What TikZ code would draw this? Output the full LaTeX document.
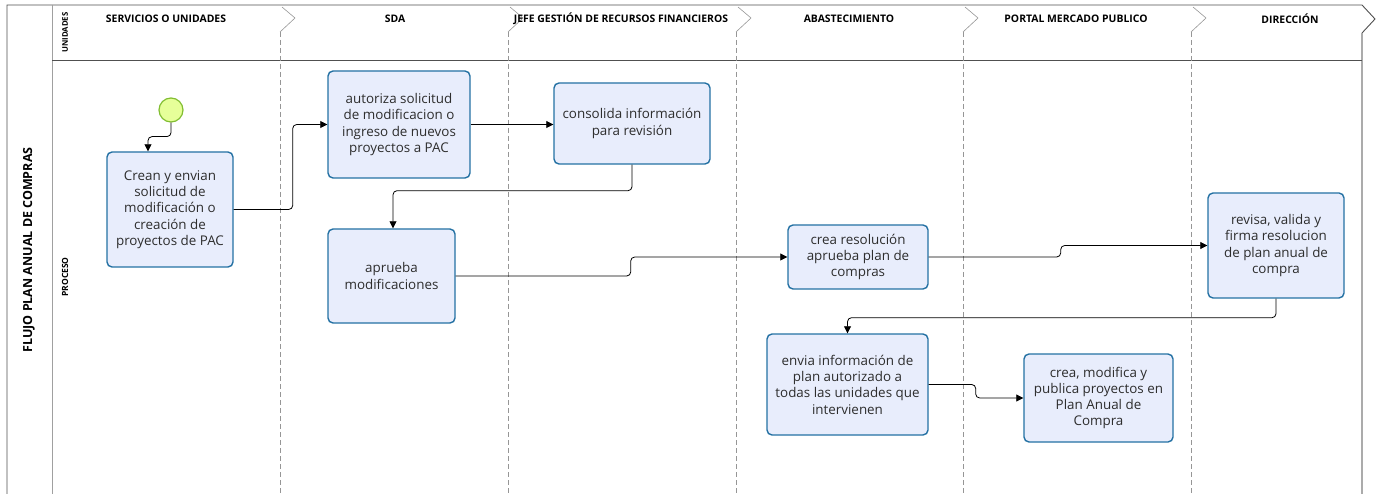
\documentclass[tikz,border=0pt]{standalone}
\usepackage{fontspec}
\setmainfont{Open Sans}
\usetikzlibrary{arrows.meta}
\definecolor{boxfill}{RGB}{232,237,252}
\definecolor{boxline}{RGB}{36,113,163}
\definecolor{txt}{RGB}{45,45,45}
\definecolor{startfill}{RGB}{230,255,153}
\definecolor{startline}{RGB}{130,190,50}
\definecolor{sepgray}{RGB}{150,150,150}
\definecolor{poolline}{RGB}{80,80,80}
\tikzset{
  task/.style={draw=boxline, line width=1.4pt, fill=boxfill, rounded corners=5pt,
    align=center, text=txt, font=\fontsize{13.4}{16.3}\selectfont, inner sep=2pt},
  flow/.style={draw=black, line width=0.8pt, rounded corners=4pt,
    -{Triangle[length=7pt,width=7pt]}},
  hdr/.style={font=\fontsize{10.4}{12}\selectfont\bfseries, text=black},
  sep/.style={draw=sepgray, dash pattern=on 5pt off 3pt, line width=0.6pt},
  startev/.style={circle, draw=startline, line width=1.2pt, fill=startfill, minimum size=24pt, inner sep=0pt}
}
\begin{document}
\begin{tikzpicture}[x=1pt,y=-1pt]
\useasboundingbox (0,0) rectangle (1381,494);
% pool frame
\draw[poolline, line width=0.9pt] (7,494) -- (7,5) -- (1362,5) -- (1375,19) -- (1362,33);
\draw[sepgray!80, line width=1.6pt] (1362,33) -- (1362,494);
\draw[sepgray!90, line width=1pt] (52,5) -- (52,494);
\draw[poolline, line width=0.8pt] (52,60) -- (1362,60);
% separators
\foreach \s in {280,508,736,963,1191}{
  \draw[sepgray, line width=0.6pt] (\s+2,7) -- (\s+15,18) -- (\s,32);
  \draw[sep] (\s,32) -- (\s,494);
}
% titles
\node[hdr, font=\fontsize{12.5}{14}\selectfont\bfseries, rotate=90] (pooltitle) at (29,250) {FLUJO PLAN ANUAL DE COMPRAS};
\node[hdr, font=\fontsize{7.8}{9}\selectfont\bfseries, rotate=90] (lane1) at (65,32.5) {UNIDADES};
\node[hdr, font=\fontsize{8.5}{10}\selectfont\bfseries, rotate=90] (lane2) at (65,277) {PROCESO};
\node[hdr] (c1) at (166,18.5) {SERVICIOS O UNIDADES};
\node[hdr] (c2) at (395,18.5) {SDA};
\node[hdr] (c3) at (621,18.5) {JEFE GESTIÓN DE RECURSOS FINANCIEROS};
\node[hdr] (c4) at (849,18.5) {ABASTECIMIENTO};
\node[hdr] (c5) at (1076,18.5) {PORTAL MERCADO PUBLICO};
\node[hdr] (c6) at (1290,18.5) {DIRECCIÓN};
% nodes
\node[startev] (start) at (171,110) {};
\node[task, minimum width=126pt, minimum height=115pt] (b1) at (170,209.5) {Crean y envian\\solicitud de\\modificación o\\creación de\\proyectos de PAC};
\node[task, minimum width=142pt, minimum height=107pt] (b2) at (399,124.5) {autoriza solicitud\\de modificacion o\\ingreso de nuevos\\proyectos a PAC};
\node[task, minimum width=156pt, minimum height=81pt] (b3) at (632,123.5) {consolida información\\para revisión};
\node[task, minimum width=127pt, minimum height=94pt] (b4) at (391.5,276) {aprueba\\modificaciones};
\node[task, minimum width=140pt, minimum height=64pt] (b5) at (858,257) {crea resolución\\aprueba plan de\\compras};
\node[task, minimum width=136pt, minimum height=105pt] (b6) at (1276,245.5) {revisa, valida y\\firma resolucion\\de plan anual de\\compra};
\node[task, minimum width=161pt, minimum height=101pt] (b7) at (847.5,384.5) {envia información de\\plan autorizado a\\todas las unidades que\\intervienen};
\node[task, minimum width=149pt, minimum height=88pt] (b8) at (1098.5,398) {crea, modifica y\\publica proyectos en\\Plan Anual de\\Compra};
% connectors
\draw[flow] (start.south) -- ++(0,14) -| ([xshift=-22pt]b1.north);
\draw[flow] (b1.east) -- ++(59,0) |- (b2.west);
\draw[flow] (b2.east) -- (b2.east -| b3.west);
\draw[flow] (b3.south) -- ++(0,26) -| ([xshift=1.5pt]b4.north);
\draw[flow] (b4.east) -- ++(175,0) |- (b5.west);
\draw[flow] (b5.east) -- ++(132,0) |- (b6.west);
\draw[flow] (b6.south) -- ++(0,19) -| (b7.north);
\draw[flow] (b7.east) -- ++(47,0) |- (b8.west);
\end{tikzpicture}
\end{document}
